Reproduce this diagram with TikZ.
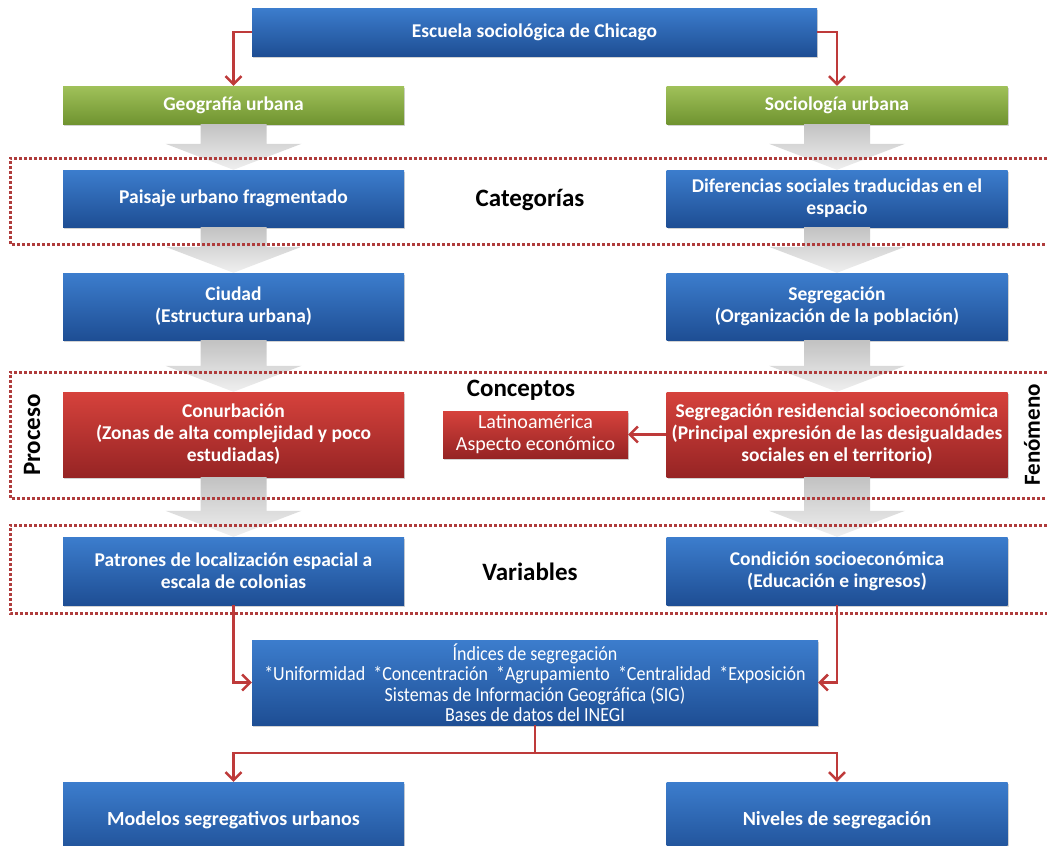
\documentclass[tikz,border=0pt]{standalone}
\usepackage{fontspec}
\setmainfont{Carlito}
\newfontfamily\narrowfont[FakeStretch=0.9]{Carlito}
\usetikzlibrary{arrows.meta,calc,shadows}

\definecolor{boxblueA}{RGB}{60,125,205}
\definecolor{boxblueB}{RGB}{30,78,148}
\definecolor{boxgreenA}{RGB}{160,193,90}
\definecolor{boxgreenB}{RGB}{112,148,48}
\definecolor{boxredA}{RGB}{214,66,60}
\definecolor{boxredB}{RGB}{150,36,36}
\definecolor{linkred}{RGB}{190,58,58}
\definecolor{dotred}{RGB}{175,60,60}

\newcommand{\grayflow}[2]{%
  \path[flowarrow] let \p1=(#1.south), \p2=(#2.north) in
    (\x1-33pt,\y1) -- (\x1+33pt,\y1) -- (\x1+33pt,\y2+26pt) -- (\x1+68pt,\y2+26pt)
    -- (\x1,\y2) -- (\x1-68pt,\y2+26pt) -- (\x1-33pt,\y2+26pt) -- cycle;}

\begin{document}
\begin{tikzpicture}[x=1pt,y=-1pt,
  box/.style={rectangle, minimum width=341pt, align=center, text=white,
    font=\fontsize{19.5}{22}\selectfont\bfseries,
    drop shadow={opacity=0.35, shadow xshift=1pt, shadow yshift=-2pt}},
  bluebox/.style={box, top color=boxblueA, bottom color=boxblueB},
  greenbox/.style={box, top color=boxgreenA, bottom color=boxgreenB, minimum height=38pt},
  redbox/.style={box, top color=boxredA, bottom color=boxredB},
  tag/.style={font=\fontsize{25}{28}\selectfont\bfseries},
  link/.style={draw=linkred, line width=2.5pt, -{Straight Barb[length=8pt,width=16pt]}},
  flowarrow/.style={top color=black!24, bottom color=black!6},
  dotbox/.style={draw=dotred, line width=3pt, dash pattern=on 3pt off 2pt}]
\useasboundingbox (0,0) rectangle (1047,846);

% boxes
\node[bluebox, minimum width=565pt, minimum height=48pt] (chicago) at (534.5,32) {Escuela sociológica de Chicago};
\node[greenbox] (geo) at (233.5,105) {Geografía urbana};
\node[greenbox] (soc) at (837,105) {Sociología urbana};
\node[bluebox, minimum height=57pt] (paisaje) at (233.5,198.5) {Paisaje urbano fragmentado};
\node[bluebox, minimum height=57pt] (diferencias) at (837,198.5) {Diferencias sociales traducidas en el\\espacio};
\node[bluebox, minimum height=67pt] (ciudad) at (233.5,306.5) {Ciudad\\(Estructura urbana)};
\node[bluebox, minimum height=67pt] (segregacion) at (837,306.5) {Segregación\\(Organización de la población)};
\node[redbox, minimum height=85pt] (conurb) at (233.5,434.5) {Conurbación\\(Zonas de alta complejidad y poco\\estudiadas)};
\node[redbox, minimum height=85pt] (residencial) at (837,434.5) {Segregación residencial socioeconómica\\(Principal expresión de las desigualdades\\sociales en el territorio)};
\node[redbox, minimum width=185pt, minimum height=47pt, font=\fontsize{20}{22}\selectfont] (latino) at (535.5,434.5) {Latinoamérica\\Aspecto económico};
\node[bluebox, minimum height=68pt] (patrones) at (233.5,571) {Patrones de localización espacial a\\escala de colonias};
\node[bluebox, minimum height=68pt] (condicion) at (837,571) {Condición socioeconómica\\(Educación e ingresos)};
\node[bluebox, minimum width=566pt, minimum height=85pt, font=\narrowfont\fontsize{20}{20.5}\selectfont] (indices) at (535,682.5)
  {Índices de segregación\\*Uniformidad\ \ *Concentración\ \ *Agrupamiento\ \ *Centralidad\ \ *Exposición\\Sistemas de Información Geográfica (SIG)\\Bases de datos del INEGI};
\node[bluebox, minimum height=76pt, font=\fontsize{20}{22}\selectfont\bfseries] (modelos) at (233.5,820) {Modelos segregativos urbanos};
\node[bluebox, minimum height=76pt, font=\fontsize{20}{22}\selectfont\bfseries] (niveles) at (837,820) {Niveles de segregación};

% labels
\node[tag] (categorias) at (530,200) {Categorías};
\node[tag] (conceptos) at (521,390) {Conceptos};
\node[tag] (variables) at (530,572) {Variables};
\node[tag, rotate=90] (proceso) at (32,435) {Proceso};
\node[tag, rotate=90, font=\fontsize{23}{26}\selectfont\bfseries] (fenomeno) at (1032,435) {Fenómeno};

% gray flow arrows
\grayflow{geo}{paisaje}
\grayflow{soc}{diferencias}
\grayflow{paisaje}{ciudad}
\grayflow{diferencias}{segregacion}
\grayflow{ciudad}{conurb}
\grayflow{segregacion}{residencial}
\grayflow{conurb}{patrones}
\grayflow{residencial}{condicion}

% dotted frames
\draw[dotbox] (1047,158) -| (10,244) -- (1047,244);
\draw[dotbox] (1047,372) -| (10,498) -- (1047,498);
\draw[dotbox] (1047,525) -| (10,613) -- (1047,613);

% red links
\draw[link] (chicago.west) -| (geo.north);
\draw[link] (chicago.east) -| (soc.north);
\draw[link] (residencial.west) -- (latino.east);
\draw[link] (patrones.south) |- (indices.west);
\draw[link] (condicion.south) |- (indices.east);
\draw[link] (indices.south) -- ++(0,28) coordinate (split) -| (modelos.north);
\draw[link] (split) -| (niveles.north);
\end{tikzpicture}
\end{document}
